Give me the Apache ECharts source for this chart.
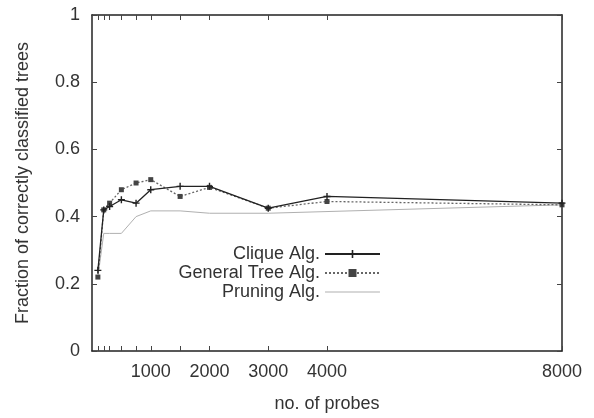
<!DOCTYPE html>
<html>
<head>
<meta charset="utf-8">
<script src="https://cdn.jsdelivr.net/npm/echarts@6/dist/echarts.min.js"></script>
<style>html,body{margin:0;padding:0;background:#fff}#c{width:594px;height:418px}</style>
</head>
<body>
<div id="c"></div>
<script>
const probes = [100, 200, 300, 500, 750, 1000, 1500, 2000, 3000, 4000, 8000];
const cliqueAlg = [0.24, 0.42, 0.43, 0.45, 0.44, 0.48, 0.49, 0.49, 0.425, 0.46, 0.44];
const generalTreeAlg = [0.22, 0.42, 0.44, 0.48, 0.50, 0.51, 0.46, 0.487, 0.425, 0.445, 0.435];
const pruningAlg = [0.22, 0.35, 0.35, 0.35, 0.40, 0.417, 0.417, 0.41, 0.41, 0.415, 0.435];
const xTickLabels = [1000, 2000, 3000, 4000, 8000];
const seriesNames = ['Clique Alg.', 'General Tree Alg.', 'Pruning Alg.'];

const pair = (xs, ys) => xs.map((x, i) => [x, ys[i]]);
const FONT = 'Liberation Sans';
const txt = '#333';
const chart = echarts.init(document.getElementById('c'), null, {renderer: 'canvas'});
const xCommon = {
  type: 'value', min: 0, max: 8000,
  axisLine: {show: true, onZero: false, lineStyle: {color: '#222', width: 1.5}},
  axisTick: {show: true, inside: true, length: 5, customValues: probes, lineStyle: {color: '#444'}},
  splitLine: {show: false}
};
const yCommon = {
  type: 'value', min: 0, max: 1, interval: 0.2,
  axisLine: {show: true, onZero: false, lineStyle: {color: '#222', width: 1.5}},
  axisTick: {show: true, inside: true, length: 5, lineStyle: {color: '#444'}},
  splitLine: {show: false}
};
const thinLineIcon = 'path://M0,0h0.01v0.01h-0.01z M0,4.5h55v1h-55z M55,10h0.01v0.01h-0.01z';
chart.setOption({
  backgroundColor: '#fff',
  animation: false,
  grid: {left: 92, right: 32, top: 15, bottom: 67},
  legend: {
    orient: 'vertical', align: 'right', right: 208, top: 240,
    itemWidth: 55, itemHeight: 10, itemGap: 1,
    textStyle: {fontFamily: FONT, fontSize: 18, color: txt},
    data: [seriesNames[0], seriesNames[1], {name: seriesNames[2], icon: thinLineIcon}]
  },
  xAxis: [
    Object.assign({}, xCommon, {
      position: 'bottom',
      name: 'no. of probes', nameLocation: 'middle', nameGap: 44,
      nameTextStyle: {fontFamily: FONT, fontSize: 18, color: txt},
      axisLabel: {customValues: xTickLabels, fontFamily: FONT, fontSize: 18, color: txt, margin: 12,
        formatter: v => String(v)}
    }),
    Object.assign({}, xCommon, {position: 'top', axisLabel: {show: false}})
  ],
  yAxis: [
    Object.assign({}, yCommon, {
      position: 'left',
      name: 'Fraction of correctly classified trees', nameLocation: 'middle', nameGap: 60,
      nameTextStyle: {fontFamily: FONT, fontSize: 18, color: txt},
      axisLabel: {fontFamily: FONT, fontSize: 18, color: txt, margin: 12,
        formatter: v => (v === 0 || v === 1) ? String(v) : v.toFixed(1)}
    }),
    Object.assign({}, yCommon, {position: 'right', axisLabel: {show: false}})
  ],
  series: [
    {
      name: seriesNames[0], type: 'line', data: pair(probes, cliqueAlg),
      symbol: 'path://M4,0h2v10h-2z M0,4h10v2h-10z', symbolSize: 7,
      lineStyle: {color: '#222', width: 1.3}, itemStyle: {color: '#222'}, z: 4
    },
    {
      name: seriesNames[1], type: 'line', data: pair(probes, generalTreeAlg),
      symbol: 'rect', symbolSize: 5,
      lineStyle: {color: '#666', width: 1.3, type: [2, 2]}, itemStyle: {color: '#444'}, z: 3
    },
    {
      name: seriesNames[2], type: 'line', data: pair(probes, pruningAlg),
      symbol: 'none',
      lineStyle: {color: '#b0b0b0', width: 1}, itemStyle: {color: '#b0b0b0'}, z: 2
    }
  ]
});
</script>
</body>
</html>
